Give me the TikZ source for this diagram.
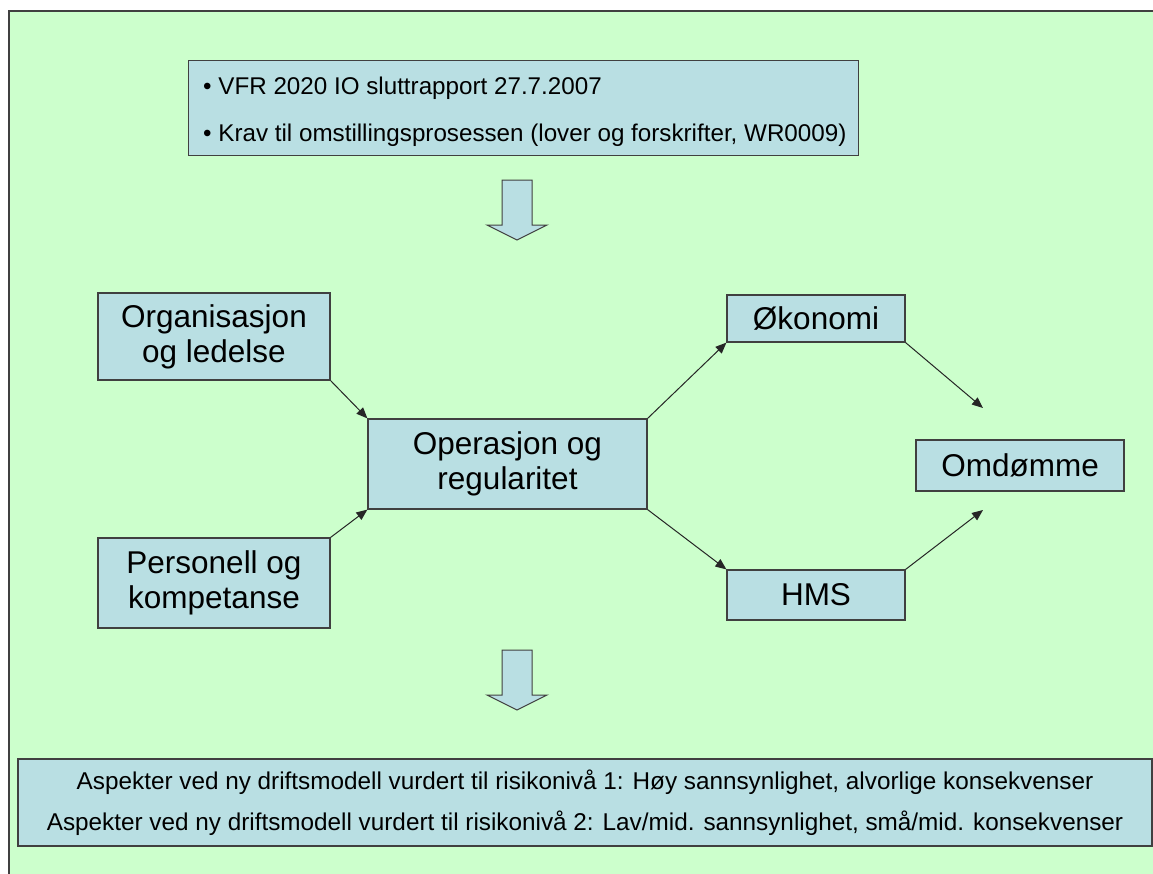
\documentclass[tikz,border=0pt]{standalone}
\usepackage{fontspec}
\setmainfont{Liberation Sans}
\usetikzlibrary{arrows.meta}
\definecolor{bggreen}{HTML}{CCFFCC}
\definecolor{boxblue}{HTML}{B9DFE3}
\definecolor{edge}{HTML}{404040}
\begin{document}
\begin{tikzpicture}[x=1pt,y=-1pt,
  box/.style={draw=edge, line width=1.2pt, fill=boxblue, inner sep=0pt, align=center,
    font=\fontsize{31.5}{35}\selectfont},
  conn/.style={draw=black!85, line width=1pt, -{Triangle[length=11pt,width=9pt]}},
  bigarrow/.style={draw=edge, line width=1pt, fill=boxblue}]
\useasboundingbox (0,0) rectangle (1153,873);
\clip (0,0) rectangle (1153,873);
\draw[draw=edge, line width=1.5pt, fill=bggreen] (9,11) rectangle (1170,890);
% top box
\node[box, minimum width=670, minimum height=95, anchor=north west] (top) at (188,60) {};
\node[anchor=west, inner sep=0pt, font=\fontsize{24.2}{28}\selectfont] (t1) at (203,88) {\textbullet\ VFR 2020 IO sluttrapport 27.7.2007};
\node[anchor=west, inner sep=0pt, font=\fontsize{24.2}{28}\selectfont] (t2) at (203,135) {\textbullet\ Krav til omstillingsprosessen (lover og forskrifter, WR0009)};
% big down arrows
\draw[bigarrow] (502,180) -- (532,180) -- (532,225) -- (547,225) -- (517,240) -- (487,225) -- (502,225) -- cycle;
\draw[bigarrow] (502,650) -- (532,650) -- (532,695) -- (547,695) -- (517,710) -- (487,695) -- (502,695) -- cycle;
% nodes
\node[box, minimum width=232, minimum height=87] (org) at (214,336.5) {Organisasjon\\og ledelse};
\node[box, minimum width=232, minimum height=90] (pers) at (214,583) {Personell og\\kompetanse};
\node[box, minimum width=279, minimum height=90] (op) at (507.5,464) {Operasjon og\\regularitet};
\node[box, minimum width=178, minimum height=47] (oko) at (816,318.5) {Økonomi};
\node[box, minimum width=178, minimum height=50] (hms) at (816,595) {HMS};
\node[box, minimum width=208, minimum height=51] (omd) at (1020,465.5) {Omdømme};
% bottom box
\node[box, minimum width=1134, minimum height=87, font=\fontsize{24.3}{41}\selectfont] (bot) at (585,802.5) {Aspekter ved ny driftsmodell vurdert til risikonivå 1: Høy sannsynlighet, alvorlige konsekvenser\\Aspekter ved ny driftsmodell vurdert til risikonivå 2: Lav/mid. sannsynlighet, små/mid. konsekvenser};
% connectors
\coordinate (e1) at (983,408);
\coordinate (e2) at (983,510);
\draw[conn] (org.south east) -- (op.north west);
\draw[conn] (pers.north east) -- (op.south west);
\draw[conn] (op.north east) -- (oko.south west);
\draw[conn] (op.south east) -- (hms.north west);
\draw[conn] (oko.south east) -- (e1);
\draw[conn] (hms.north east) -- (e2);
\end{tikzpicture}
\end{document}
